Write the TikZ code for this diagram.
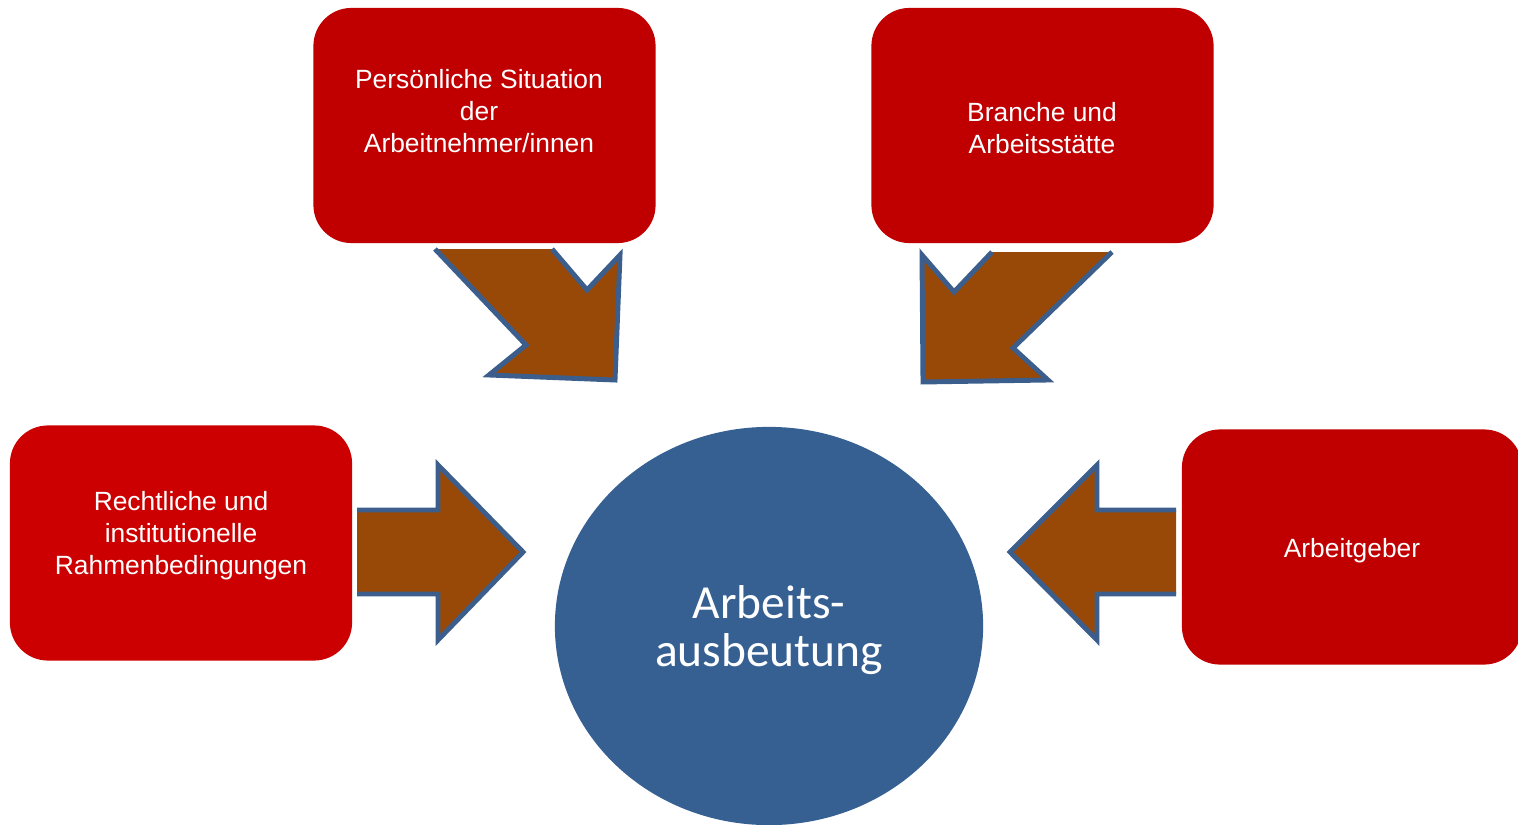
\documentclass[tikz,border=0pt]{standalone}
\usepackage{fontspec}
\setmainfont{Liberation Sans}
\newfontfamily\calibri{Carlito}
\usetikzlibrary{shapes.geometric}

\definecolor{boxred}{HTML}{C00000}
\definecolor{boxredlight}{HTML}{CC0000}
\definecolor{circblue}{HTML}{376092}
\definecolor{arrbrown}{HTML}{984807}
\definecolor{arrblue}{HTML}{3B5E8C}

\begin{document}
\begin{tikzpicture}[x=0.01cm, y=-0.01cm,
  factorbox/.style={rectangle, rounded corners=0.38cm, fill=boxred, draw=none, minimum width=3.42cm, minimum height=2.35cm, inner sep=0pt},
  factortext/.style={text=white, align=center, font=\fontsize{7.5pt}{9.1pt}\selectfont},
  blockfill/.style={fill=arrbrown, draw=none},
  blockedge/.style={draw=arrblue, line width=1.4pt, line join=miter}
]
\useasboundingbox (0,0) rectangle (1518,824);

% factors
\node[factorbox] (pers) at (484.5,125.5) {};
\node[factortext] (pers-txt) at (479,111) {Persönliche Situation\\der\\Arbeitnehmer/innen};
\node[factorbox] (branche) at (1042.5,125.5) {};
\node[factortext] (branche-txt) at (1042,128) {Branche und\\Arbeitsstätte};
\node[factorbox, fill=boxredlight] (recht) at (181,543) {};
\node[factortext] (recht-txt) at (181,536) {Rechtliche und\\institutionelle\\Rahmenbedingungen};
\node[factorbox, minimum width=3.4cm] (geber) at (1352,547) {};
\node[factortext] (geber-txt) at (1352,551) {Arbeitgeber};

% centre
\node[ellipse, fill=circblue, minimum width=4.28cm, minimum height=3.98cm, inner sep=0pt, text depth=0pt,
  text=white, align=center, font=\calibri\fontsize{13.5pt}{13.7pt}\selectfont] (ausb) at (769,626) {Arbeits-\\ausbeutung};

% block arrows
\fill[blockfill] (435,249) -- (552,249) -- (587,290) -- (620,255) -- (615,380) -- (489,375) -- (526,345) -- cycle;
\draw[blockedge] (552,249) -- (587,290) -- (620,255) -- (615,380) -- (489,375) -- (526,345) -- (435,249);

\fill[blockfill] (1112,252) -- (992,252) -- (954,292) -- (922,255) -- (923,382) -- (1048,380) -- (1013,348) -- cycle;
\draw[blockedge] (992,252) -- (954,292) -- (922,255) -- (923,382) -- (1048,380) -- (1013,348) -- (1112,252);

\fill[blockfill] (357,510) -- (438,510) -- (438,465) -- (523,552) -- (438,640) -- (438,594) -- (357,594) -- cycle;
\draw[blockedge] (357,510) -- (438,510) -- (438,465) -- (523,552) -- (438,640) -- (438,594) -- (357,594);

\fill[blockfill] (1176,510) -- (1097,510) -- (1097,465) -- (1010,552) -- (1097,640) -- (1097,594) -- (1176,594) -- cycle;
\draw[blockedge] (1176,510) -- (1097,510) -- (1097,465) -- (1010,552) -- (1097,640) -- (1097,594) -- (1176,594);
\end{tikzpicture}
\end{document}
